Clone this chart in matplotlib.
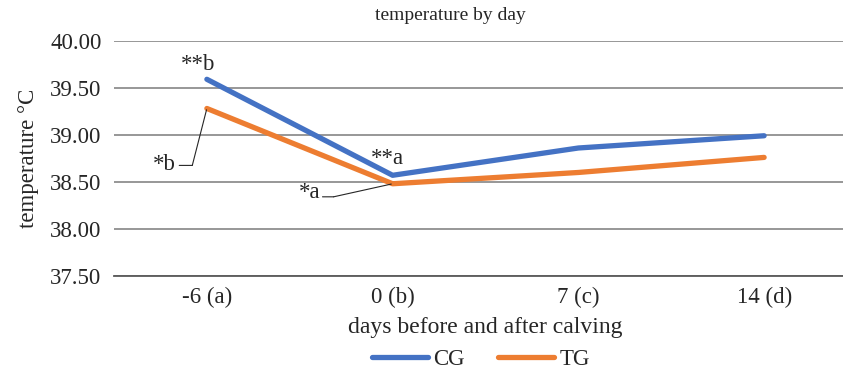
import matplotlib
matplotlib.use("Agg")
import matplotlib.pyplot as plt
from matplotlib.transforms import offset_copy

categories = ["-6 (a)", "0 (b)", "7 (c)", "14 (d)"]
cg_values = [39.59, 38.57, 38.86, 38.99]
tg_values = [39.28, 38.48, 38.60, 38.76]
y_ticks = [37.50, 38.00, 38.50, 39.00, 39.50, 40.00]

plt.rcParams['font.family'] = ['Liberation Serif', 'DejaVu Serif']

W, H = 843, 369
fig = plt.figure(figsize=(W / 100, H / 100), dpi=100)
ax = fig.add_axes([114 / W, (H - 276) / H, (857 - 114) / W, (276 - 40.7) / H])

x = list(range(len(categories)))
blue = "#4472C4"
orange = "#ED7D31"
ax.plot(x, cg_values, color=blue, lw=3.8, solid_capstyle='round', solid_joinstyle='round', label="CG", zorder=3)
ax.plot(x, tg_values, color=orange, lw=3.8, solid_capstyle='round', solid_joinstyle='round', label="TG", zorder=3)

ax.set_xlim(-0.5, len(categories) - 0.5)
ax.set_ylim(y_ticks[0], y_ticks[-1])
ax.set_yticks(y_ticks)
ax.set_yticklabels([f"{v:.2f}" for v in y_ticks], fontsize=16.5, color="#262626")
ax.set_xticks(x)
ax.set_xticklabels(categories, fontsize=16.5, color="#262626")
ax.tick_params(axis='both', length=0)
ax.tick_params(axis='y', pad=9)
ax.tick_params(axis='x', pad=8)

ax.grid(axis='y', color="#858585", lw=1.2, zorder=0)
for s in ['top', 'right', 'left']:
    ax.spines[s].set_visible(False)
ax.spines['bottom'].set_color("#595959")
ax.spines['bottom'].set_linewidth(1.3)

ax.set_xlabel("days before and after calving", fontsize=17, color="#262626", labelpad=6)
ax.set_ylabel("temperature °C", fontsize=16.5, color="#262626", labelpad=8)
fig.text(450 / W, 1 - 15 / H, "temperature by day", fontsize=14, color="#262626",
         ha='center', va='center')

# annotations (labels)
txt = dict(ha='center', va='center', fontsize=16.5, color="#262626", textcoords='offset points')
ax.annotate("**b", xy=(0, cg_values[0]), xytext=(-6, 11), **txt)
ax.annotate("**a", xy=(1, cg_values[1]), xytext=(-4, 12), **txt)
ax.annotate("*b", xy=(0, tg_values[0]), xytext=(-31, -40), **txt)
ax.annotate("*a", xy=(1, tg_values[1]), xytext=(-60, -6), **txt)

# leader lines: corner offset (pt) from the point, then horizontal run to the label
def leader(px, py, cdx, cdy, run):
    corner = offset_copy(ax.transData, fig=fig, x=cdx, y=cdy, units='points')
    lp = dict(arrowstyle='-', color="#262626", lw=0.8, shrinkA=0, shrinkB=0)
    ax.annotate("", xy=(px, py), xytext=(cdx, cdy), textcoords='offset points',
                arrowprops=dict(lp, shrinkB=1))
    ax.annotate("", xy=(px, py), xycoords=corner, xytext=(-run, 0),
                textcoords='offset points', arrowprops=lp)

leader(0, tg_values[0], -10.5, -41, 9.4)
leader(1, tg_values[1], -42.5, -9.4, 8)

leg = fig.legend(loc='center', bbox_to_anchor=(481 / W, 1 - 359 / H), ncol=2, frameon=False,
                 fontsize=16.5, handlelength=2.45, handletextpad=0.25, columnspacing=1.45,
                 labelcolor="#262626")

fig.savefig("out.png", dpi=100)
